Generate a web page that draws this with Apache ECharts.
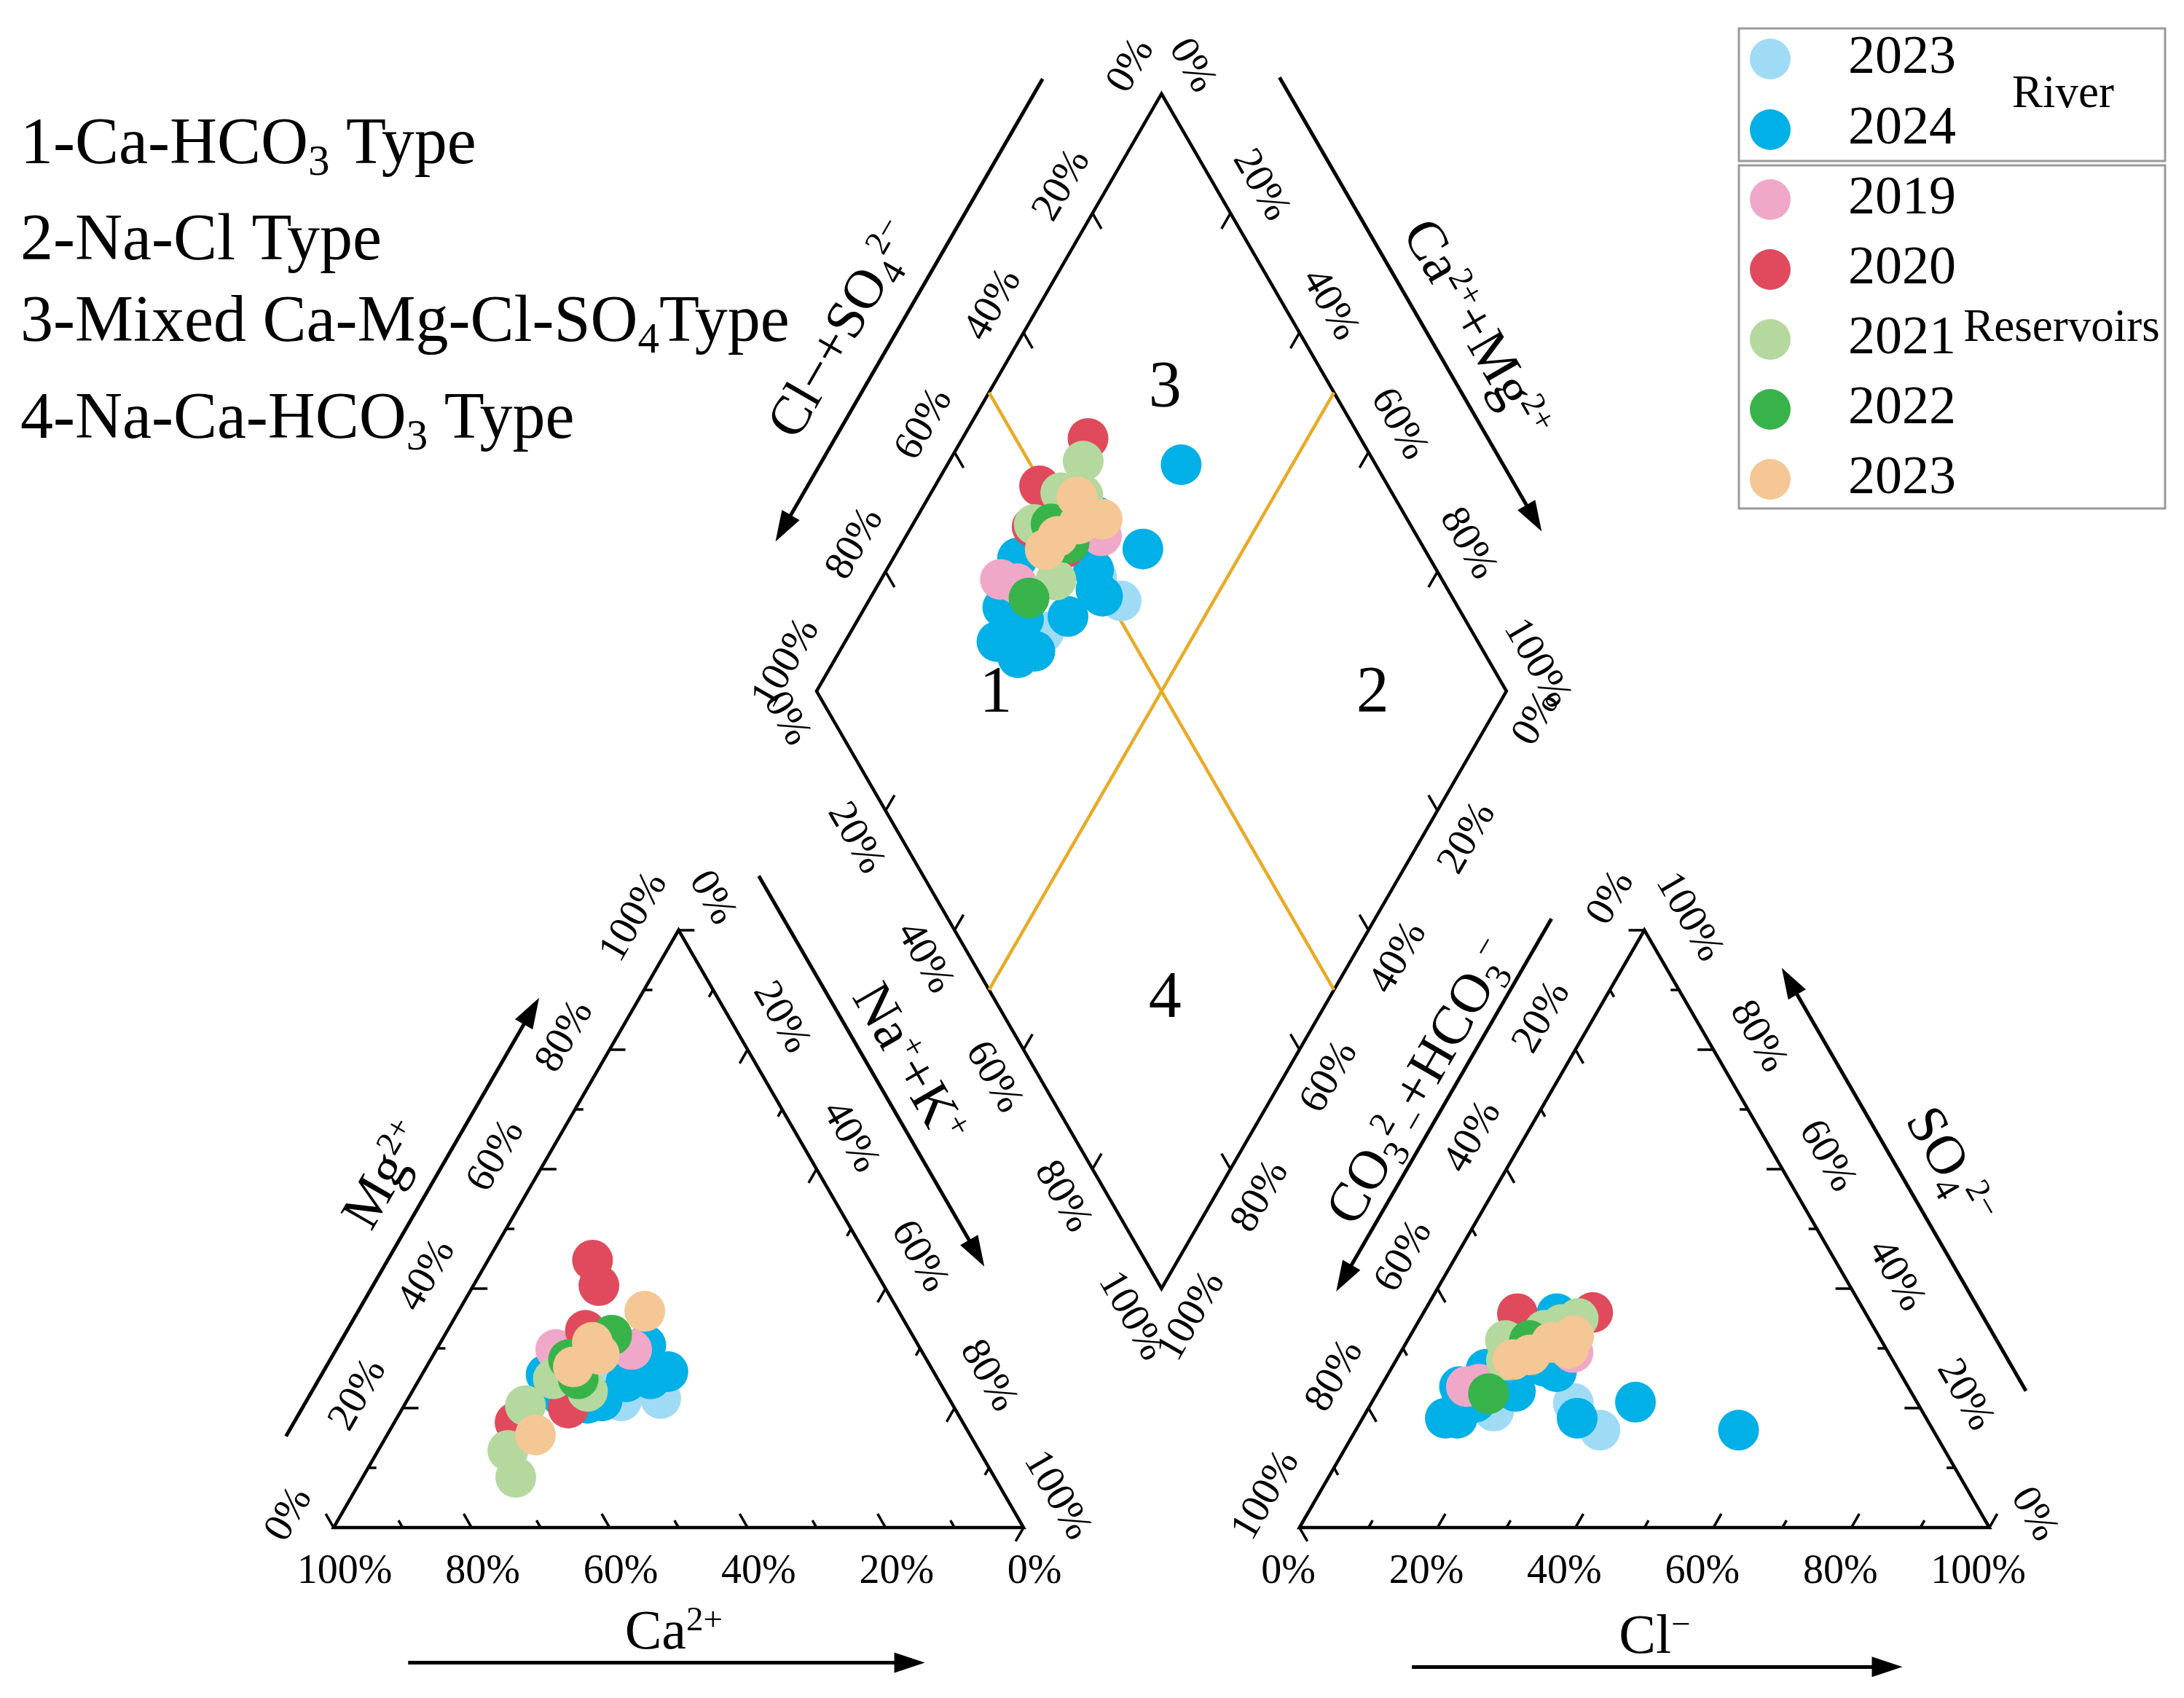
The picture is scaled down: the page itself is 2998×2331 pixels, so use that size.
<!DOCTYPE html>
<html><head><meta charset="utf-8"><title>Piper diagram</title>
<script src="https://cdn.jsdelivr.net/npm/echarts@6/dist/echarts.min.js"></script>
<style>html,body{margin:0;padding:0;background:#fff;overflow:hidden}#chart{width:2998px;height:2331px}</style>
</head><body><div id="chart"></div>
<script>
// ---------------- data ----------------
// each sample: [Mg2+ %, Na+ + K+ %, SO4 2- %, Cl- %]  (Ca2+ and HCO3- are the remainders)
const river2023 = [[21.6,36.6,16.3,35.4],[21.2,31.1,20.8,29.3],[22.5,28.0,19.5,18.4]];
const river2024 = [[26.1,33.9,16.3,55.5],[26.1,35.4,21.0,38.2],[24.9,33.5,18.3,31.1],[30.5,30.0,26.1,24.2],
                   [20.8,26.4,18.3,13.7],[21.2,28.3,23.6,11.4],[24.4,30.2,22.8,19.9],[25.6,18.0,26.5,13.8],
                   [22.0,22.0,18.3,12.0],[30.0,26.0,35.8,19.4],[27.0,32.0,27.0,22.0],[22.0,24.0,21.0,15.0],
                   [25.0,20.0,21.0,13.0]];
const res2019 = [[29.8,17.3,23.6,12.4],[29.8,28.3,29.3,25.0],[28.0,20.0,24.0,14.0]];
const res2020 = [[44.75,15.15,35.8,13.7],[40.5,18.2,36.0,24.5],[33.0,20.0,30.0,16.0],[20.0,24.0,29.0,19.0],[17.6,17.5,29.0,16.0]];
const res2021 = [[24.9,19.4,35.0,22.9],[20.4,17.6,31.3,14.2],[12.9,18.8,33.0,19.0],[8.4,22.2,34.0,21.0],[22.8,25.4,28.0,16.0]];
const res2022 = [[32.2,24.2,31.3,17.7],[24.9,23.0,22.4,16.2],[28.1,20.0,30.0,18.0]];
const res2023 = [[36.2,27.0,32.1,23.7],[31.0,22.0,28.9,19.0],[26.9,21.3,28.1,16.9],[15.5,21.5,30.0,24.0],[29.0,24.0,31.0,21.0]];

const groupNames = ['River 2023','River 2024','Reservoirs 2019','Reservoirs 2020','Reservoirs 2021','Reservoirs 2022','Reservoirs 2023'];
const groupData = [river2023, river2024, res2019, res2020, res2021, res2022, res2023];
const groupColors = ['#9FDBF5','#00B0E6','#EFA8C8','#E04A5C','#B4D89E','#38B34A','#F4C794'];
const legendYears = ['2023','2024','2019','2020','2021','2022','2023'];
const tickPercents = [0,20,40,60,80,100];
const typeLines = ['1-Ca-HCO{sub|3} Type','2-Na-Cl Type','3-Mixed Ca-Mg-Cl-SO{sub|4}Type','4-Na-Ca-HCO{sub|3} Type'];

// ---------------- geometry (units: triangle side = 100) ----------------
const FONT = '"Liberation Serif","Times New Roman",serif';
const H = 86.60254, s3 = Math.sqrt(3)/2;
const A=[0,0], B=[100,0], C=[50,H];
const D=[140,0], E=[240,0], Fp=[190,H];
const Bd=[120,0.4*H], L=[70,1.4*H], R=[170,1.4*H], T=[120,2.4*H];
const U = 9.47, OX = 458, OY = 2097, W = 2998, HH = 2331;

function lerp(P,Q,f){return [P[0]+(Q[0]-P[0])*f, P[1]+(Q[1]-P[1])*f];}
function add(P,v,k){return [P[0]+v[0]*k, P[1]+v[1]*k];}
function frameAt(P,Q,n,t,d){return [P[0]+(Q[0]-P[0])*t/100+n[0]*d, P[1]+(Q[1]-P[1])*t/100+n[1]*d];}

function cationPt(s){return [s[1]+s[0]/2, s[0]*H/100];}
function anionPt(s){return [140+s[3]+s[2]/2, s[2]*H/100];}
function diamondPt(s){const a=s[2]+s[3], c=100-s[1]; return [120+0.5*(a-c), 0.4*H+(a+c)*H/100];}

const sides = [
 {P0:B, P100:A, n:[0,-1], tick:[-0.5,s3], tau:[1,0], rot:0, kind:'tri'},
 {P0:A, P100:C, n:[-s3,0.5], tick:[1,0], tau:[-0.5,-s3], rot:60, kind:'tri'},
 {P0:C, P100:B, n:[s3,0.5], tick:[-0.5,-s3], tau:[-0.5,s3], rot:-60, kind:'tri'},
 {P0:D, P100:E, n:[0,-1], tick:[0.5,s3], tau:[-1,0], rot:0, kind:'tri'},
 {P0:Fp, P100:D, n:[-s3,0.5], tick:[0.5,-s3], tau:[0.5,s3], rot:60, kind:'tri'},
 {P0:E, P100:Fp, n:[s3,0.5], tick:[-1,0], tau:[0.5,-s3], rot:-60, kind:'tri'},
 {P0:T, P100:L, n:[-s3,0.5], tick:[0.5,-s3], tau:[0.5,s3], rot:60, kind:'dia'},
 {P0:T, P100:R, n:[s3,0.5], tick:[-0.5,-s3], tau:[-0.5,s3], rot:-60, kind:'dia'},
 {P0:L, P100:Bd, n:[-s3,-0.5], tick:[0.5,s3], tau:[0.5,-s3], rot:-60, kind:'dia'},
 {P0:R, P100:Bd, n:[s3,-0.5], tick:[-0.5,s3], tau:[-0.5,-s3], rot:60, kind:'dia'}
];

// ticks
const tickSegs = [];
sides.forEach(sd=>{
  if (sd.kind==='tri') {
    for (let v=0; v<=100; v+=10) {
      const p = lerp(sd.P0, sd.P100, v/100);
      const len = (v%20===0) ? 2.3 : 1.2;
      tickSegs.push({coords:[p, add(p, sd.tick, len)]});
    }
  } else {
    [20,40,60,80].forEach(v=>{
      const p = lerp(sd.P0, sd.P100, v/100);
      tickSegs.push({coords:[p, add(p, sd.tick, 2.6)]});
    });
  }
});

// arrows
const arrows = [
  {from: frameAt(T,L,[-s3,0.5],6.75,16), to: frameAt(T,L,[-s3,0.5],84.2,16)},
  {from: frameAt(T,R,[s3,0.5],6.5,16), to: frameAt(T,R,[s3,0.5],82.5,16)},
  {from: frameAt(C,B,[s3,0.5],-1,14), to: frameAt(C,B,[s3,0.5],64.4,14)},
  {from: frameAt(A,C,[-s3,0.5],8,12.6), to: frameAt(A,C,[-s3,0.5],81.4,12.6)},
  {from: frameAt(D,Fp,[-s3,0.5],94.7,12.5), to: frameAt(D,Fp,[-s3,0.5],32.3,12.5)},
  {from: frameAt(E,Fp,[s3,0.5],14.5,14.5), to: frameAt(E,Fp,[s3,0.5],85.3,14.5)},
  {from: [10.8,-19.6], to: [85.7,-19.6]},
  {from: [156.3,-20.2], to: [227.4,-20.2]}
];
const shaftSegs = arrows.map(a=>{
  const dx=a.to[0]-a.from[0], dy=a.to[1]-a.from[1], l=Math.hypot(dx,dy);
  return {coords:[a.from, [a.to[0]-dx/l*2.5, a.to[1]-dy/l*2.5]]};
});

const titles = [
  {pos: frameAt(T,L,[-s3,0.5],52.7,22.7), text:'Cl−+SO{sub|4}{sup|2−}', rot:60},
  {pos: frameAt(T,R,[s3,0.5],52.4,22.2), text:'Ca{sup|2+}+Mg{sup|2+}', rot:-60},
  {pos: frameAt(C,B,[s3,0.5],33.5,19.0), text:'Na{sup|+}+K{sup|+}', rot:-60},
  {pos: frameAt(A,C,[-s3,0.5],48,18.8), text:'Mg{sup|2+}', rot:60},
  {pos: frameAt(D,Fp,[-s3,0.5],64.7,16.8), text:'CO{sub|3}{sup|2}{sub|−}+HCO{sub|3}{sup|−}', rot:60},
  {pos: frameAt(E,Fp,[s3,0.5],48.2,21.0), text:'SO{sub|4}{sup|2−}', rot:-60},
  {pos: [49.3,-15.4], text:'Ca{sup|2+}', rot:0},
  {pos: [191.5,-16.1], text:'Cl{sup|−}', rot:0}
];
const regions = [{pos:[120.5,165],t:'3'},{pos:[96,120.8],t:'1'},{pos:[150.6,120.8],t:'2'},{pos:[120.5,76.5],t:'4'}];

// ---------------- chart ----------------
const chart = echarts.init(document.getElementById('chart'), null, {renderer:'canvas'});
const series = [
  {type:'lines', coordinateSystem:'cartesian2d', polyline:true, silent:true, z:1,
   lineStyle:{color:'#000', width:4.5, opacity:1, join:'miter'},
   data:[{coords:[A,B,C,A,B]},{coords:[D,E,Fp,D,E]},{coords:[T,R,Bd,L,T,R]}]},
  {type:'lines', coordinateSystem:'cartesian2d', silent:true, z:1,
   lineStyle:{color:'#000', width:3.5, opacity:1}, data: tickSegs},
  {type:'lines', coordinateSystem:'cartesian2d', silent:true, z:1,
   lineStyle:{color:'#E9AA25', width:4.5, opacity:1},
   data:[{coords:[lerp(T,L,0.5), lerp(R,Bd,0.5)]},{coords:[lerp(T,R,0.5), lerp(L,Bd,0.5)]}]},
  {type:'lines', coordinateSystem:'cartesian2d', silent:true, z:1,
   lineStyle:{color:'#000', width:5, opacity:1}, data: shaftSegs}
];
groupData.forEach((g,i)=>{
  const pts = [];
  g.forEach(s=>pts.push(cationPt(s)));
  g.forEach(s=>pts.push(anionPt(s)));
  g.forEach(s=>pts.push(diamondPt(s)));
  series.push({type:'scatter', name:groupNames[i], data:pts, symbol:'circle', symbolSize:56,
    itemStyle:{color:groupColors[i], opacity:1}, silent:true, z:2, emphasis:{disabled:true}});
});

chart.setOption({
  animation:false,
  backgroundColor:'#fff',
  grid:{left:0,right:0,top:0,bottom:0,containLabel:false},
  xAxis:{type:'value', min:-OX/U, max:(W-OX)/U, show:false},
  yAxis:{type:'value', min:-(HH-OY)/U, max:OY/U, show:false},
  series
});

const px = p => chart.convertToPixel({gridIndex:0}, p);
function rt(text, F, align){
  return {text, fontSize:F, fontFamily:FONT, lineHeight:F, fill:'#000',
    align: align||'center', textAlign: align||'center', verticalAlign:'middle', textVerticalAlign:'middle',
    rich:{
      sub:{fontSize:Math.round(F*0.66), fontFamily:FONT, height:F*0.46, lineHeight:F*0.46, verticalAlign:'bottom', fill:'#000'},
      sup:{fontSize:Math.round(F*0.62), fontFamily:FONT, height:F*0.56, lineHeight:F*0.56, verticalAlign:'top', fill:'#000'}
    }};
}
function textAt(p, str, F, rotDeg, align){
  return {type:'text', x:p[0], y:p[1], rotation:(rotDeg||0)*Math.PI/180, silent:true, z:100, style:rt(str,F,align)};
}
const els = [];
// percent labels
sides.forEach(sd=>{
  const d = sd.kind==='tri' ? 6.5 : 5.8, s = sd.kind==='tri' ? 1.6 : 1.3;
  tickPercents.forEach(v=>{
    let p = lerp(sd.P0, sd.P100, v/100);
    p = add(add(p, sd.n, d), sd.tau, s);
    els.push(textAt(px(p), v+'%', 56, sd.rot));
  });
});
// arrow heads
arrows.forEach(a=>{
  const t = px(a.to), f = px(a.from);
  const dx=t[0]-f[0], dy=t[1]-f[1], l=Math.hypot(dx,dy), ux=dx/l, uy=dy/l;
  const bx=t[0]-ux*42, by=t[1]-uy*42, hw=14;
  els.push({type:'polygon', silent:true, z:50, shape:{points:[[t[0],t[1]],[bx-uy*hw,by+ux*hw],[bx+uy*hw,by-ux*hw]]}, style:{fill:'#000'}});
});
titles.forEach(tt=>els.push(textAt(px(tt.pos), tt.text, 76, tt.rot)));
regions.forEach(r=>els.push(textAt(px(r.pos), r.t, 90, 0)));
// type descriptions
const typeY = [200, 332, 444, 577];
typeLines.forEach((s,i)=>els.push(textAt([28, typeY[i]], s, 90, 0, 'left')));
// legend
els.push({type:'rect', silent:true, z:90, shape:{x:2387,y:39,width:585,height:182}, style:{fill:'#fff', stroke:'#9a9a9a', lineWidth:3}});
els.push({type:'rect', silent:true, z:90, shape:{x:2387,y:227,width:585,height:471}, style:{fill:'#fff', stroke:'#9a9a9a', lineWidth:3}});
const legY = [81,178,274,370,466,562,658];
legendYears.forEach((yr,i)=>{
  els.push({type:'circle', silent:true, z:95, shape:{cx:2430, cy:legY[i], r:28}, style:{fill:groupColors[i]}});
  els.push(textAt([2537, legY[i]], yr, 74, 0, 'left'));
});
els.push(textAt([2832,130], 'River', 63, 0));
els.push(textAt([2830,451], 'Reservoirs', 63, 0));

chart.setOption({graphic:{elements:els}});
</script></body></html>
